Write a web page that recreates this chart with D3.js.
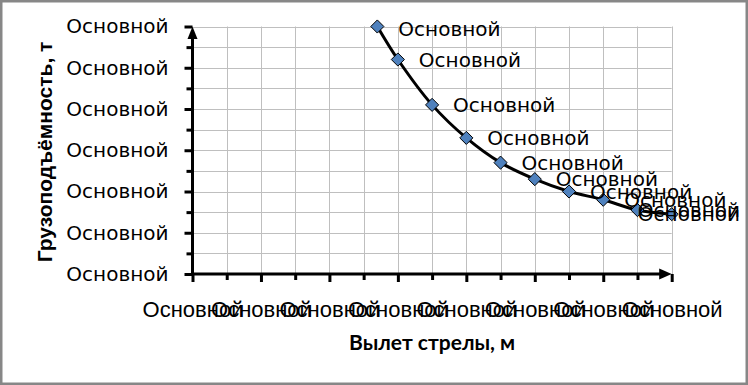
<!DOCTYPE html>
<html lang="ru">
<head>
    <meta charset="UTF-8">
    <title>Грузоподъёмность крана</title>
    <script src="https://d3js.org/d3.v7.min.js"></script>
    <style>
        body { margin: 0; background: #fff; }
        svg { display: block; }
    </style>
</head>
<body>
    <div id="chart"></div>
    <script>
        // data
        const reach = [5.4, 6, 7, 8, 9, 10, 11, 12, 13, 14];
        const capacity = [12, 10.4, 8.2, 6.6, 5.4, 4.6, 4.0, 3.6, 3.1, 2.9];
        const pointLabels = ["Основной", "Основной", "Основной", "Основной", "Основной",
                             "Основной", "Основной", "Основной", "Основной", "Основной"];
        const xTicks = [0, 2, 4, 6, 8, 10, 12, 14];
        const xTickLabels = ["Основной", "Основной", "Основной", "Основной",
                             "Основной", "Основной", "Основной", "Основной"];
        const yTicks = [0, 2, 4, 6, 8, 10, 12];
        const yTickLabels = ["Основной", "Основной", "Основной", "Основной",
                             "Основной", "Основной", "Основной"];

        const width = 748, height = 385;

        const svg = d3.select("#chart")
            .append("svg")
            .attr("width", width)
            .attr("height", height);

        svg.append("rect")
            .attr("x", 1.25).attr("y", 1.25)
            .attr("width", width - 2.5).attr("height", height - 2.5)
            .attr("fill", "#fff")
            .attr("stroke", "#878787")
            .attr("stroke-width", 2.5);

        const x = d3.scaleLinear().domain([0, 14]).range([192.5, 671.7]);
        const y = d3.scaleLinear().domain([0, 12]).range([274, 26.5]);

        // grid at every unit
        const grid = svg.append("g").attr("stroke", "#bfbfbf").attr("stroke-width", 1);
        grid.selectAll("line.v")
            .data(d3.range(1, 15))
            .join("line")
            .attr("class", "v")
            .attr("x1", d => Math.round(x(d)) + 0.5).attr("x2", d => Math.round(x(d)) + 0.5)
            .attr("y1", y(12)).attr("y2", y(0));
        grid.selectAll("line.h")
            .data(d3.range(1, 13))
            .join("line")
            .attr("class", "h")
            .attr("y1", d => Math.round(y(d)) + 0.5).attr("y2", d => Math.round(y(d)) + 0.5)
            .attr("x1", x(0)).attr("x2", x(14));

        // minor ticks
        svg.append("g")
            .attr("transform", `translate(0,${y(0)})`)
            .call(d3.axisBottom(x).tickValues(d3.range(1, 15, 2)).tickSize(6).tickFormat(""))
            .call(g => g.select(".domain").remove())
            .call(g => g.selectAll("line").attr("stroke-width", 3));
        svg.append("g")
            .attr("transform", `translate(${x(0)},0)`)
            .call(d3.axisLeft(y).tickValues(d3.range(1, 13, 2)).tickSize(6).tickFormat(""))
            .call(g => g.select(".domain").remove())
            .call(g => g.selectAll("line").attr("stroke-width", 3));

        // major ticks + labels
        const xAxis = svg.append("g")
            .attr("transform", `translate(0,${y(0)})`)
            .call(d3.axisBottom(x).tickValues(xTicks).tickSize(8).tickPadding(19)
                .tickFormat((d, i) => xTickLabels[i]))
            .call(g => g.select(".domain").remove());
        xAxis.selectAll("line").attr("stroke-width", 3);
        xAxis.selectAll("text")
            .attr("font-family", "'Liberation Sans', Arial, sans-serif")
            .attr("font-size", 22)
            .attr("fill", "#000");

        const yAxis = svg.append("g")
            .attr("transform", `translate(${x(0)},0)`)
            .call(d3.axisLeft(y).tickValues(yTicks).tickSize(8).tickPadding(16)
                .tickFormat((d, i) => yTickLabels[i]))
            .call(g => g.select(".domain").remove());
        yAxis.selectAll("line").attr("stroke-width", 3);
        yAxis.selectAll("text")
            .attr("font-family", "'DejaVu Sans', sans-serif")
            .attr("font-size", 20)
            .attr("fill", "#000");

        // axis lines with arrows
        const x0 = x(0), y0 = y(0), xEnd = x(14), yEnd = y(12);
        svg.append("line")
            .attr("x1", x0).attr("x2", xEnd - 10)
            .attr("y1", y0).attr("y2", y0)
            .attr("stroke", "#000").attr("stroke-width", 3);
        svg.append("path")
            .attr("d", `M${xEnd},${y0}L${xEnd - 12.5},${y0 - 5.5}L${xEnd - 12.5},${y0 + 5.5}Z`)
            .attr("fill", "#000");
        svg.append("line")
            .attr("x1", x0).attr("x2", x0)
            .attr("y1", y0 + 1.5).attr("y2", yEnd + 10)
            .attr("stroke", "#000").attr("stroke-width", 3);
        svg.append("path")
            .attr("d", `M${x0},${yEnd}L${x0 - 5},${yEnd + 12.5}L${x0 + 5},${yEnd + 12.5}Z`)
            .attr("fill", "#000");

        // smoothed line
        const pts = reach.map((r, i) => [x(r), y(capacity[i])]);
        svg.append("path")
            .attr("d", d3.line().curve(d3.curveCatmullRom.alpha(0.5))(pts))
            .attr("fill", "none")
            .attr("stroke", "#000")
            .attr("stroke-width", 3);

        // diamond markers
        svg.selectAll("path.marker")
            .data(pts)
            .join("path")
            .attr("class", "marker")
            .attr("d", d3.symbol().type(d3.symbolDiamond2).size(110))
            .attr("transform", d => `translate(${d[0]},${d[1]})`)
            .attr("fill", "#4f81bd")
            .attr("stroke", "#000")
            .attr("stroke-width", 1);

        // data labels, kept inside the chart on the right
        svg.selectAll("text.dl")
            .data(pts)
            .join("text")
            .attr("class", "dl")
            .attr("font-family", "'DejaVu Sans', sans-serif")
            .attr("font-size", 20)
            .attr("dominant-baseline", "central")
            .attr("y", d => Math.max(d[1], 29))
            .text((d, i) => pointLabels[i])
            .attr("x", function (d) {
                const w = this.getComputedTextLength();
                return Math.min(d[0] + 21, 740 - w);
            });

        // axis titles
        svg.append("text")
            .attr("x", (x0 + xEnd) / 2)
            .attr("y", 350)
            .attr("text-anchor", "middle")
            .attr("font-family", "Lato, 'Liberation Sans', sans-serif")
            .attr("font-weight", "bold")
            .attr("font-size", 21)
            .text("Вылет стрелы, м");

        svg.append("text")
            .attr("transform", "translate(51.5,152) rotate(-90)")
            .attr("text-anchor", "middle")
            .attr("font-family", "'Liberation Sans', Arial, sans-serif")
            .attr("font-weight", "bold")
            .attr("font-size", 21)
            .text("Грузоподъёмность, т");
    </script>
</body>
</html>
